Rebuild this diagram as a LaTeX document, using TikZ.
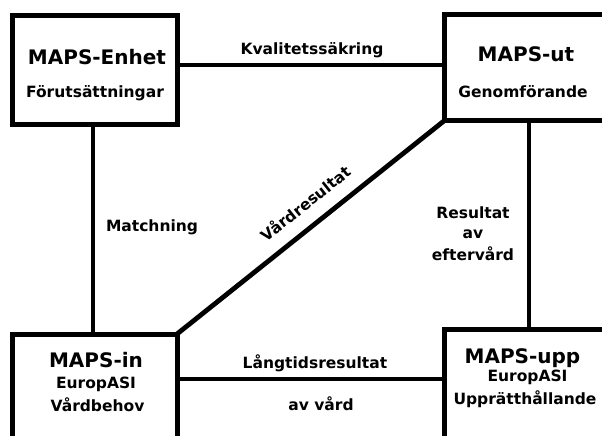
\documentclass[tikz,border=0pt]{standalone}
\usepackage{fontspec}
\setmainfont{DejaVu Sans}
\begin{document}
\begin{tikzpicture}[x=1pt,y=-1pt,
  box/.style={draw, line width=5pt, rectangle, inner sep=0pt, outer sep=0pt},
  conn/.style={line width=4.8pt},
  big/.style={font=\bfseries\fontsize{20}{24}\selectfont, inner sep=0pt, anchor=base},
  small/.style={font=\bfseries\fontsize{15.5}{18}\selectfont, inner sep=0pt, anchor=base}]
\useasboundingbox (0,0) rectangle (602,436);
\clip (0,0) rectangle (602,436);
% boxes
\node[box, minimum width=165pt, minimum height=109pt] (b1) at (95,70) {};
\node[box, minimum width=195.5pt, minimum height=106pt] (b2) at (542.25,67.5) {};
\node[box, minimum width=164.5pt, minimum height=136pt] (b3) at (94.75,402) {};
\node[box, minimum width=195.5pt, minimum height=111pt] (b4) at (542.25,384.5) {};
% helper coordinates
\coordinate (ytop) at (300,65);
\coordinate (ybot) at (300,379);
\coordinate (xleft) at (93,200);
\coordinate (xright) at (529,200);
% connectors
\draw[conn] (b1.east |- ytop) -- (b2.west |- ytop);
\draw[conn] (b3.east |- ybot) -- (b4.west |- ybot);
\draw[conn] (b1.south -| xleft) -- (b3.north -| xleft);
\draw[conn] (b2.south -| xright) -- (b4.north -| xright);
\draw[conn] (b3.north east) -- (b2.south west);
% box texts
\node[big] (t1a) at (97,64) {MAPS-Enhet};
\node[small] (t1b) at (95,97) {Förutsättningar};
\node[big] (t2a) at (526,62) {MAPS-ut};
\node[small] (t2b) at (523,97) {Genomförande};
\node[big] (t3a) at (96,367) {MAPS-in};
\node[small] (t3b) at (96,388.5) {EuropASI};
\node[small] (t3c) at (97.5,411.5) {Vårdbehov};
\node[big] (t4a) at (522.5,363.5) {MAPS-upp};
\node[small] (t4b) at (527.5,381) {EuropASI};
\node[small] (t4c) at (525,404) {Upprätthållande};
% connector labels
\node[small] (l1) at (312,55) {Kvalitetssäkring};
\node[small] (l2) at (152,231) {Matchning};
\node[small] (l3a) at (473,218) {Resultat};
\node[small] (l3b) at (473,238) {av};
\node[small] (l3c) at (473,260) {eftervård};
\node[small] (l4a) at (315,368) {Långtidsresultat};
\node[small] (l4b) at (321,410) {av vård};
\node[font=\bfseries\fontsize{15.5}{18}\selectfont, inner sep=0pt, rotate=38.6] (l5) at (305,203) {Vårdresultat};
\end{tikzpicture}
\end{document}
